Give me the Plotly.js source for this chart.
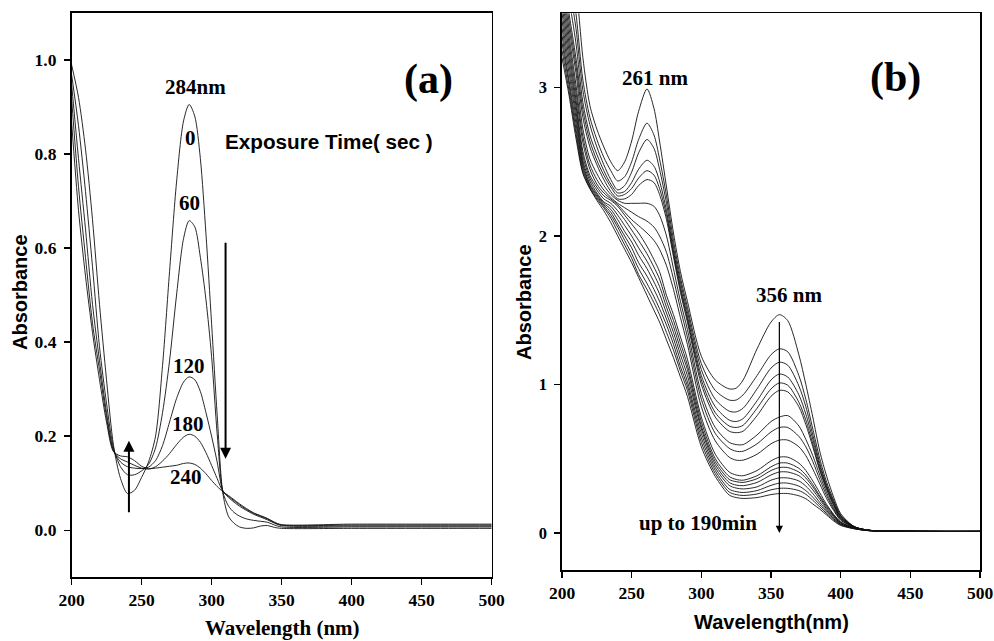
<!DOCTYPE html>
<html>
<head>
<meta charset="utf-8">
<script src="https://cdn.plot.ly/plotly-3.0.1.min.js"></script>
<style>html,body{margin:0;padding:0;background:#fff;}#chart{width:994px;height:641px;}</style>
</head>
<body>
<div id="chart"></div>
<script>
// ---------- Tick labels ----------
const xTickVals = [200,250,300,350,400,450,500];
const yTickValsA = [0,0.2,0.4,0.6,0.8,1.0];
const yTickTextA = ["0.0","0.2","0.4","0.6","0.8","1.0"];
const yTickValsB = [0,1,2,3];

// ---------- Panel (a): wavelength grid and spectra per exposure time (sec) ----------
const xA = [200,205,210,215,220,225,230,235,240,245,250,255,260,265,270,275,280,284,288,292,296,300,304,308,312,316,320,325,330,335,340,345,350,400,450,500];
const a0s   = [0.99,0.92,0.81,0.66,0.48,0.32,0.18,0.11,0.078,0.085,0.112,0.145,0.20,0.35,0.55,0.74,0.87,0.905,0.88,0.79,0.63,0.44,0.245,0.08,0.03,0.015,0.007,0.004,0.005,0.009,0.010,0.006,0.004,0.004,0.004,0.004];
const a60s  = [0.97,0.86,0.72,0.56,0.39,0.27,0.175,0.135,0.118,0.118,0.126,0.14,0.175,0.25,0.36,0.50,0.62,0.658,0.645,0.58,0.49,0.37,0.205,0.082,0.052,0.038,0.030,0.024,0.021,0.019,0.017,0.011,0.007,0.007,0.007,0.007];
const a120s = [0.95,0.79,0.64,0.48,0.36,0.25,0.17,0.145,0.135,0.132,0.131,0.134,0.148,0.18,0.23,0.28,0.315,0.326,0.32,0.295,0.25,0.20,0.145,0.085,0.070,0.060,0.051,0.042,0.034,0.028,0.022,0.015,0.010,0.009,0.009,0.009];
const a180s = [0.92,0.73,0.58,0.44,0.34,0.24,0.168,0.152,0.145,0.138,0.132,0.13,0.135,0.147,0.163,0.182,0.198,0.204,0.20,0.187,0.165,0.138,0.11,0.083,0.072,0.063,0.054,0.044,0.036,0.030,0.024,0.016,0.011,0.011,0.011,0.011];
const a240s = [0.87,0.68,0.54,0.42,0.32,0.23,0.167,0.158,0.156,0.148,0.136,0.131,0.132,0.134,0.136,0.138,0.142,0.143,0.14,0.132,0.12,0.106,0.093,0.082,0.074,0.065,0.056,0.046,0.037,0.031,0.025,0.017,0.012,0.013,0.013,0.013];
const seriesA = [a0s, a60s, a120s, a180s, a240s];
const labelsA = ["0","60","120","180","240"];

// ---------- Panel (b): wavelength grid and spectra (0 ... 190 min) ----------
const xB = [200,205,210,215,220,225,230,235,240,245,250,255,261,266,270,275,280,285,290,300,310,320,325,330,340,350,356,362,370,375,380,385,390,395,400,410,420,440,470,500];
const b0  = [4.3,4.0,3.7,3.2,2.88,2.72,2.6,2.5,2.44,2.5,2.64,2.84,2.99,2.86,2.64,2.33,2.02,1.76,1.56,1.19,1.03,0.97,0.975,1.03,1.24,1.42,1.47,1.43,1.2,1.0,0.78,0.55,0.38,0.24,0.13,0.04,0.018,0.012,0.01,0.01];
const b1  = [4.1,3.8,3.5,3.05,2.8,2.65,2.53,2.44,2.37,2.4,2.5,2.65,2.76,2.68,2.52,2.27,1.97,1.72,1.52,1.14,0.96,0.895,0.895,0.93,1.06,1.2,1.24,1.22,1.06,0.9,0.7,0.5,0.34,0.22,0.12,0.04,0.018,0.012,0.01,0.01];
const b2  = [4.0,3.7,3.4,2.98,2.75,2.6,2.48,2.38,2.31,2.34,2.43,2.56,2.65,2.59,2.45,2.22,1.93,1.69,1.49,1.1,0.9,0.82,0.815,0.84,0.97,1.11,1.15,1.13,0.99,0.85,0.66,0.47,0.32,0.21,0.115,0.04,0.018,0.012,0.01,0.01];
const b3  = [3.9,3.6,3.3,2.9,2.68,2.55,2.44,2.35,2.29,2.3,2.36,2.45,2.51,2.47,2.37,2.17,1.9,1.66,1.46,1.06,0.85,0.76,0.75,0.77,0.89,1.03,1.07,1.05,0.93,0.8,0.63,0.45,0.31,0.2,0.11,0.04,0.018,0.012,0.01,0.01];
const b4  = [3.8,3.5,3.2,2.85,2.64,2.51,2.41,2.33,2.27,2.28,2.32,2.39,2.44,2.41,2.32,2.14,1.88,1.64,1.44,1.03,0.81,0.72,0.71,0.725,0.84,0.97,1.01,0.995,0.88,0.76,0.6,0.43,0.3,0.19,0.105,0.04,0.018,0.012,0.01,0.01];
const b5  = [3.75,3.45,3.15,2.8,2.6,2.48,2.38,2.3,2.25,2.25,2.28,2.34,2.38,2.36,2.28,2.11,1.86,1.62,1.42,1.0,0.78,0.685,0.675,0.685,0.79,0.92,0.96,0.95,0.85,0.73,0.58,0.42,0.29,0.185,0.1,0.04,0.018,0.012,0.01,0.01];
const b6  = [3.7,3.4,3.1,2.72,2.52,2.42,2.34,2.28,2.24,2.22,2.22,2.22,2.22,2.2,2.14,2.0,1.78,1.56,1.37,0.94,0.71,0.61,0.595,0.595,0.66,0.75,0.78,0.79,0.72,0.63,0.52,0.39,0.27,0.17,0.095,0.04,0.018,0.012,0.01,0.01];
const b7  = [3.65,3.35,3.02,2.67,2.48,2.38,2.31,2.26,2.22,2.19,2.16,2.13,2.1,2.06,2.0,1.89,1.71,1.51,1.32,0.9,0.67,0.57,0.55,0.55,0.6,0.68,0.71,0.71,0.65,0.58,0.48,0.36,0.25,0.16,0.09,0.038,0.018,0.012,0.01,0.01];
const b8  = [3.6,3.3,2.97,2.63,2.45,2.35,2.29,2.25,2.21,2.16,2.11,2.07,2.02,1.97,1.91,1.8,1.64,1.45,1.27,0.85,0.62,0.51,0.49,0.49,0.53,0.6,0.625,0.625,0.58,0.52,0.43,0.33,0.23,0.15,0.085,0.036,0.018,0.012,0.01,0.01];
const b9  = [3.55,3.25,2.92,2.57,2.41,2.33,2.27,2.24,2.2,2.14,2.08,2.02,1.93,1.84,1.76,1.6,1.47,1.32,1.17,0.78,0.53,0.41,0.39,0.385,0.42,0.485,0.51,0.51,0.47,0.42,0.35,0.27,0.19,0.125,0.075,0.034,0.017,0.011,0.01,0.01];
const b10 = [3.5,3.2,2.88,2.54,2.39,2.31,2.25,2.22,2.17,2.11,2.04,1.97,1.88,1.79,1.71,1.56,1.43,1.28,1.13,0.75,0.5,0.38,0.36,0.355,0.385,0.445,0.47,0.47,0.435,0.39,0.325,0.25,0.18,0.12,0.07,0.033,0.017,0.011,0.01,0.01];
const b11 = [3.45,3.15,2.84,2.51,2.37,2.29,2.23,2.2,2.14,2.07,2.0,1.92,1.83,1.74,1.66,1.52,1.39,1.24,1.1,0.72,0.48,0.36,0.345,0.34,0.365,0.42,0.44,0.44,0.41,0.37,0.31,0.24,0.17,0.115,0.068,0.032,0.016,0.011,0.01,0.01];
const b12 = [3.4,3.1,2.8,2.49,2.35,2.28,2.22,2.18,2.11,2.03,1.96,1.87,1.78,1.69,1.61,1.48,1.35,1.2,1.06,0.7,0.46,0.34,0.322,0.318,0.34,0.39,0.41,0.41,0.385,0.345,0.29,0.225,0.16,0.11,0.065,0.031,0.016,0.011,0.01,0.01];
const b13 = [3.35,3.05,2.76,2.47,2.34,2.27,2.21,2.16,2.08,2.0,1.92,1.82,1.73,1.64,1.56,1.44,1.31,1.16,1.02,0.67,0.44,0.32,0.302,0.296,0.31,0.355,0.37,0.37,0.35,0.315,0.265,0.205,0.15,0.1,0.06,0.03,0.016,0.011,0.01,0.01];
const b14 = [3.3,3.02,2.72,2.45,2.33,2.26,2.2,2.14,2.06,1.97,1.88,1.78,1.68,1.59,1.51,1.4,1.27,1.12,0.99,0.64,0.42,0.295,0.278,0.272,0.285,0.32,0.335,0.335,0.315,0.285,0.24,0.19,0.14,0.095,0.057,0.029,0.015,0.011,0.01,0.01];
const b15 = [3.25,2.98,2.69,2.43,2.32,2.25,2.19,2.12,2.03,1.94,1.85,1.74,1.64,1.55,1.47,1.35,1.23,1.09,0.96,0.61,0.4,0.275,0.258,0.252,0.262,0.29,0.3,0.3,0.285,0.26,0.22,0.175,0.13,0.088,0.054,0.028,0.015,0.011,0.01,0.01];
const b16 = [3.2,2.95,2.66,2.42,2.32,2.24,2.17,2.09,2.0,1.91,1.82,1.72,1.6,1.5,1.42,1.3,1.18,1.05,0.92,0.58,0.38,0.255,0.238,0.232,0.238,0.258,0.265,0.265,0.25,0.23,0.195,0.16,0.12,0.08,0.05,0.027,0.015,0.011,0.01,0.01];
const seriesB = [b0,b1,b2,b3,b4,b5,b6,b7,b8,b9,b10,b11,b12,b13,b14,b15,b16];

// ---------- Figure ----------
const W = 994, H = 641;
const px = v => v / W;
const py = v => 1 - v / H;
const SERIF = "Liberation Serif, Times New Roman, serif";
const SANS = "Liberation Sans, Arial, sans-serif";
const bold = arr => arr.map(t => "<b>" + t + "</b>");

const traces = [];
seriesA.forEach((ys, i) => traces.push({
  x: xA, y: ys, type: "scatter", mode: "lines", name: labelsA[i] + " s",
  line: {color: "#111", width: 0.9, shape: "spline", smoothing: 0.8},
  xaxis: "x", yaxis: "y", hoverinfo: "skip"
}));
seriesB.forEach((ys, i) => traces.push({
  x: xB, y: ys, type: "scatter", mode: "lines", name: "b" + i,
  line: {color: "#111", width: 0.9, shape: "spline", smoothing: 0.8},
  xaxis: "x2", yaxis: "y2", hoverinfo: "skip"
}));

const tickFont = {family: SERIF, size: 17.5, color: "#000"};
const axisCommon = {
  showline: true, mirror: true, linecolor: "#000", linewidth: 1.6,
  ticks: "outside", ticklen: 6, tickwidth: 1.5, tickcolor: "#000",
  showgrid: false, zeroline: false, tickfont: tickFont, fixedrange: true
};

function lab(text, x, y, size, family, extra) {
  return Object.assign({
    xref: "paper", yref: "paper", x: px(x), y: py(y), text: "<b>" + text + "</b>", showarrow: false,
    xanchor: "center", yanchor: "middle",
    font: {family: family, size: size, color: "#000"}
  }, extra || {});
}

const annotations = [
  lab("284nm", 195.5, 87, 21, SERIF),
  lab("0", 190, 138, 21, SERIF),
  lab("60", 189, 203, 21, SERIF),
  lab("120", 189, 366, 21, SERIF),
  lab("180", 187.5, 424.5, 21, SERIF),
  lab("240", 186, 476.5, 21, SERIF),
  lab("Exposure Time( sec )", 329, 141.5, 20.7, SANS),
  lab("(a)", 428, 79, 42, SERIF),
  lab("(b)", 895, 78, 42, SERIF),
  lab("261 nm", 654.5, 78, 21, SERIF),
  lab("356 nm", 789, 295, 21, SERIF),
  lab("up to 190min", 698, 523, 21, SERIF),
  lab("Absorbance", 20, 292, 20, SANS, {textangle: -90}),
  lab("Absorbance", 524, 302, 20, SANS, {textangle: -90}),
  lab("Wavelength (nm)", 282, 628, 21, SERIF),
  lab("Wavelength(nm)", 771, 622, 20, SANS),
  // arrows (a)
  {xref: "x", yref: "y", axref: "x", ayref: "y", x: 241, y: 0.19, ax: 241, ay: 0.035,
   text: "", showarrow: true, arrowhead: 2, arrowsize: 1.1, arrowwidth: 2, arrowcolor: "#000", standoff: 0},
  {xref: "x", yref: "y", axref: "x", ayref: "y", x: 310, y: 0.152, ax: 310, ay: 0.614,
   text: "", showarrow: true, arrowhead: 2, arrowsize: 1.1, arrowwidth: 2, arrowcolor: "#000", standoff: 0},
  // arrow (b)
  {xref: "x2", yref: "y2", axref: "x2", ayref: "y2", x: 356, y: 0.0, ax: 356, ay: 1.43,
   text: "", showarrow: true, arrowhead: 2, arrowsize: 1.2, arrowwidth: 1.2, arrowcolor: "#000", standoff: 0}
];

const layout = {
  width: W, height: H,
  margin: {l: 0, r: 0, t: 0, b: 0, pad: 0},
  paper_bgcolor: "#fff", plot_bgcolor: "#fff",
  showlegend: false,
  xaxis: Object.assign({}, axisCommon, {domain: [px(71.5), px(491.7)], range: [200, 500],
    tickmode: "array", tickvals: xTickVals, ticktext: bold(xTickVals.map(String)), anchor: "y"}),
  yaxis: Object.assign({}, axisCommon, {domain: [py(577.3), py(12.7)], range: [-0.1, 1.1],
    tickmode: "array", tickvals: yTickValsA, ticktext: bold(yTickTextA), anchor: "x", ticklabelstandoff: 4}),
  xaxis2: Object.assign({}, axisCommon, {domain: [px(562), px(980)], range: [200, 500],
    tickmode: "array", tickvals: xTickVals, ticktext: bold(xTickVals.map(String)), anchor: "y2"}),
  yaxis2: Object.assign({}, axisCommon, {domain: [py(570), py(13.3)], range: [-0.25, 3.5],
    tickmode: "array", tickvals: yTickValsB, ticktext: bold(yTickValsB.map(String)), anchor: "x2", ticklabelstandoff: 4,
    tickfont: Object.assign({}, tickFont, {size: 16.5})}),
  annotations: annotations
};

Plotly.newPlot("chart", traces, layout, {displayModeBar: false, staticPlot: true});
</script>
</body>
</html>
